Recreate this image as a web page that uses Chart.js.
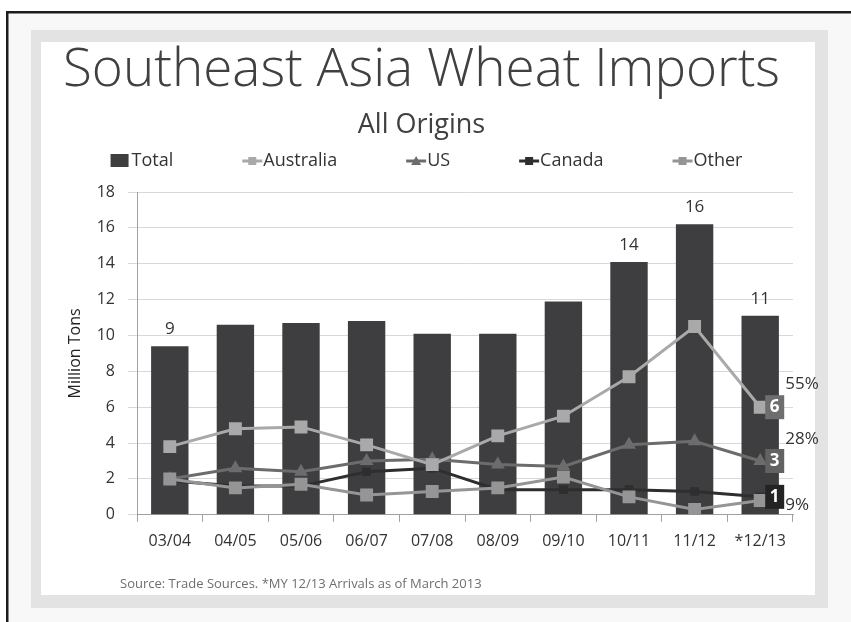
<!DOCTYPE html>
<html>
<head>
<meta charset="utf-8">
<script src="https://cdn.jsdelivr.net/npm/chart.js@4.4.0/dist/chart.umd.min.js"></script>
<style>
  html, body { margin: 0; padding: 0; background: #fff; }
</style>
</head>
<body>
<canvas id="wheat" width="851" height="622"></canvas>
<script>
// data (million tons)
const seasons = ['03/04', '04/05', '05/06', '06/07', '07/08', '08/09', '09/10', '10/11', '11/12', '*12/13'];
const total = [9.4, 10.6, 10.7, 10.8, 10.1, 10.1, 11.9, 14.1, 16.2, 11.1];
const totalLabels = ['9', '', '', '', '', '', '', '14', '16', '11'];
const australia = [3.8, 4.8, 4.9, 3.9, 2.8, 4.4, 5.5, 7.7, 10.5, 6.0];
const us = [2.0, 2.6, 2.4, 3.0, 3.1, 2.8, 2.7, 3.9, 4.1, 3.0];
const canada = [1.9, 1.6, 1.6, 2.4, 2.6, 1.4, 1.4, 1.4, 1.3, 1.0];
const other = [2.0, 1.5, 1.7, 1.1, 1.3, 1.5, 2.1, 1.0, 0.3, 0.8];
const endValues = ['6', '3', '1'];       // last season, Australia / US / Canada
const endShares = ['55%', '28%', '9%'];
const sourceNote = 'Source: Trade Sources. *MY 12/13 Arrivals as of March 2013';

const FONT = 'Open Sans';
const boxColors = ['#6e6e6e', '#626262', '#232323'];
const shareDy = [-23, -22, 8];

const frame = {
  id: 'frame',
  beforeDraw(chart) {
    const ctx = chart.ctx;
    const w = chart.width, h = chart.height;
    ctx.save();
    ctx.fillStyle = '#ffffff';
    ctx.fillRect(0, 0, w, h);
    ctx.fillStyle = '#f8f8f8';
    ctx.fillRect(8, 13, w - 8, h - 13);
    ctx.fillStyle = '#e3e3e3';
    ctx.fillRect(31, 30, 797, 578);
    ctx.fillStyle = '#ffffff';
    ctx.fillRect(41, 42, 774, 553);
    ctx.fillStyle = '#1c1c1c';
    ctx.fillRect(6, 11, w - 6, 2.5);
    ctx.fillRect(6, 11, 2.5, h - 11);
    ctx.restore();
  }
};

function drawMarker(ctx, style, x, y, color) {
  ctx.fillStyle = color;
  if (style === 'triangle') {
    ctx.beginPath();
    ctx.moveTo(x, y - 5);
    ctx.lineTo(x + 5, y + 4);
    ctx.lineTo(x - 5, y + 4);
    ctx.closePath();
    ctx.fill();
  } else {
    ctx.fillRect(x - 4, y - 4, 8, 8);
  }
}

const extras = {
  id: 'extras',
  afterDatasetsDraw(chart) {
    const ctx = chart.ctx;
    const datasets = chart.data.datasets;
    ctx.save();

    // labels above the Total bars
    const barIdx = datasets.findIndex(d => d.label === 'Total');
    const bars = chart.getDatasetMeta(barIdx).data;
    ctx.font = '17px "' + FONT + '"';
    ctx.fillStyle = '#333';
    ctx.textAlign = 'center';
    ctx.textBaseline = 'middle';
    bars.forEach((b, i) => {
      if (totalLabels[i]) ctx.fillText(totalLabels[i], b.x, b.y - 17);
    });

    // value boxes and shares at the last season
    endValues.forEach((v, i) => {
      const pt = chart.getDatasetMeta(i).data[seasons.length - 1];
      ctx.fillStyle = boxColors[i];
      ctx.fillRect(pt.x + 5, pt.y - 12, 19, 24);
      ctx.fillStyle = '#fff';
      ctx.font = 'bold 17px "' + FONT + '"';
      ctx.textAlign = 'center';
      ctx.fillText(v, pt.x + 14.5, pt.y);
      ctx.fillStyle = '#333';
      ctx.font = '17px "' + FONT + '"';
      ctx.textAlign = 'left';
      ctx.fillText(endShares[i], pt.x + 25, pt.y + shareDy[i]);
    });

    // source note
    ctx.font = '13px "' + FONT + '"';
    ctx.fillStyle = '#6e6e6e';
    ctx.textAlign = 'left';
    ctx.fillText(sourceNote, 120, 584);
    ctx.restore();
  },
  afterDraw(chart) {
    // legend: equal gaps between entries, centred over the plot
    const ctx = chart.ctx;
    const items = chart.data.datasets.slice().sort((a, b) => a.legendOrder - b.legendOrder);
    ctx.save();
    ctx.font = '18px "' + FONT + '"';
    ctx.textBaseline = 'middle';
    const gap = 68, y = 161;
    const widths = items.map(d => 22 + ctx.measureText(d.label).width);
    const full = widths.reduce((a, b) => a + b, 0) + gap * (items.length - 1);
    let x = 427 - full / 2;
    items.forEach((d, i) => {
      if (d.type === 'bar') {
        ctx.fillStyle = d.backgroundColor;
        ctx.fillRect(x, y - 7, 18, 13);
      } else {
        ctx.strokeStyle = d.borderColor;
        ctx.lineWidth = 3;
        ctx.beginPath();
        ctx.moveTo(x, y);
        ctx.lineTo(x + 20, y);
        ctx.stroke();
        drawMarker(ctx, d.pointStyle, x + 10, y, d.pointBackgroundColor);
      }
      ctx.fillStyle = '#333';
      ctx.textAlign = 'left';
      ctx.fillText(d.label, x + 21, y);
      x += widths[i] + gap;
    });
    ctx.restore();
  }
};

function lineSet(label, data, color, style, radius, order, legendOrder) {
  return {
    type: 'line', label: label, data: data,
    borderColor: color, backgroundColor: color,
    pointBackgroundColor: color, pointBorderColor: color,
    pointStyle: style, pointRadius: radius, borderWidth: 3,
    tension: 0, order: order, legendOrder: legendOrder
  };
}

new Chart(document.getElementById('wheat'), {
  type: 'bar',
  data: {
    labels: seasons,
    datasets: [
      lineSet('Australia', australia, '#a9a9a9', 'rect', 7, 1, 1),
      lineSet('US', us, '#6c6c6c', 'triangle', 5, 3, 2),
      lineSet('Canada', canada, '#2e2e2e', 'rect', 4, 4, 3),
      lineSet('Other', other, '#959595', 'rect', 7, 2, 4),
      {
        type: 'bar', label: 'Total', data: total,
        backgroundColor: '#3e3e40', barPercentage: 0.57, categoryPercentage: 1,
        order: 5, legendOrder: 0
      }
    ]
  },
  options: {
    responsive: false,
    animation: false,
    events: [],
    layout: { padding: { left: 50, right: 58, top: 0, bottom: 61 } },
    plugins: {
      legend: { display: false },
      tooltip: { enabled: false },
      title: {
        display: true,
        text: 'Southeast Asia Wheat Imports',
        color: '#404040',
        font: { family: FONT, size: 53, weight: '300', lineHeight: 1.2 },
        padding: { top: 39, bottom: 7 }
      },
      subtitle: {
        display: true,
        text: 'All Origins',
        color: '#404040',
        font: { family: FONT, size: 27, weight: '400', lineHeight: 1.2 },
        padding: { top: 0, bottom: 50 }
      }
    },
    scales: {
      x: {
        grid: { drawOnChartArea: false, tickLength: 7, color: '#a0a0a0' },
        border: { color: '#a0a0a0' },
        ticks: { color: '#333', padding: 10, font: { family: FONT, size: 16 } }
      },
      y: {
        min: 0, max: 18,
        afterFit(scale) { scale.width = 87; },
        ticks: { stepSize: 2, color: '#333', padding: 13, font: { family: FONT, size: 16 } },
        grid: { color: '#d8d8d8', tickLength: 9 },
        border: { color: '#a0a0a0' },
        title: {
          display: true, text: 'Million Tons', color: '#222',
          font: { family: FONT, size: 16 }, padding: { top: 16, bottom: 0 }
        }
      }
    }
  },
  plugins: [frame, extras]
});
</script>
</body>
</html>
